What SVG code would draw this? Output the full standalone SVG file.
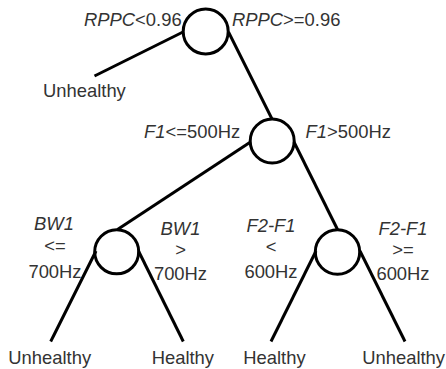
<svg xmlns="http://www.w3.org/2000/svg" width="446" height="369" viewBox="0 0 446 369">
<style>
.n{fill:none;stroke:#000;stroke-width:3}
.e{stroke:#000;stroke-width:3;fill:none}
text{font-family:"Liberation Sans",Arial,sans-serif;font-size:18.4px;fill:#333}
.c{text-anchor:middle}
.i{font-style:italic}
</style>
<rect width="446" height="369" fill="#fff"/>
<g id="connectors">
<line class="e" x1="183" y1="32" x2="94.5" y2="76"/>
<line class="e" x1="228.5" y1="32" x2="272" y2="119"/>
<line class="e" x1="250.5" y1="142" x2="117.5" y2="229.5"/>
<line class="e" x1="294" y1="142" x2="337.5" y2="229.5"/>
<line class="e" x1="96" y1="251" x2="50.7" y2="341.5"/>
<line class="e" x1="138.5" y1="251" x2="183.3" y2="341.5"/>
<line class="e" x1="316" y1="251" x2="271" y2="341.5"/>
<line class="e" x1="360" y1="251" x2="405" y2="341.5"/>
</g>
<g id="root">
<circle class="n" cx="205.7" cy="31.5" r="22.5"/>
<text x="84" y="26"><tspan class="i">RPPC</tspan>&lt;0.96</text>
<text x="232" y="26"><tspan class="i">RPPC</tspan>&gt;=0.96</text>
</g>
<g id="f1">
<circle class="n" cx="272.2" cy="141" r="22"/>
<text x="144" y="137.5"><tspan class="i">F1</tspan>&lt;=500Hz</text>
<text x="305.5" y="137.5"><tspan class="i">F1</tspan>&gt;500Hz</text>
</g>
<g id="bw1">
<circle class="n" cx="116.7" cy="251.8" r="22"/>
<text class="c" x="54" y="230"><tspan class="i">BW1</tspan></text>
<text class="c" x="55" y="252">&lt;=</text>
<text class="c" x="55" y="277.5">700Hz</text>
<text class="c" x="180.5" y="235"><tspan class="i">BW1</tspan></text>
<text class="c" x="180.5" y="255.5">&gt;</text>
<text class="c" x="180.5" y="280">700Hz</text>
</g>
<g id="f2f1">
<circle class="n" cx="337.5" cy="252" r="22.2"/>
<text class="c" x="271" y="232"><tspan class="i">F2-F1</tspan></text>
<text class="c" x="271" y="253">&lt;</text>
<text class="c" x="271" y="277.5">600Hz</text>
<text class="c" x="403" y="235"><tspan class="i">F2-F1</tspan></text>
<text class="c" x="403" y="255.5">&gt;=</text>
<text class="c" x="403" y="280">600Hz</text>
</g>
<g id="leaf-root-left"><text x="43" y="96.5">Unhealthy</text></g>
<g id="leaf-bw1-left"><text x="8.3" y="363.5">Unhealthy</text></g>
<g id="leaf-bw1-right"><text x="151.7" y="363.5">Healthy</text></g>
<g id="leaf-f2-left"><text x="243.3" y="363.5">Healthy</text></g>
<g id="leaf-f2-right"><text x="362.2" y="363.5">Unhealthy</text></g>
</svg>
